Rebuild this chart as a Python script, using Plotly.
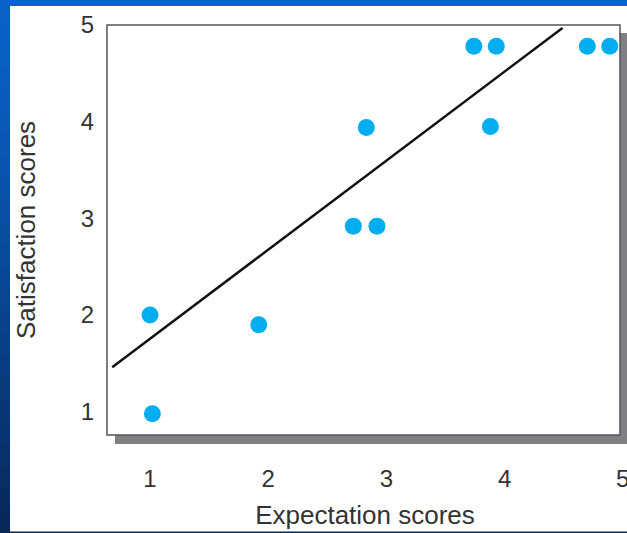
import plotly.graph_objects as go

# Data
expectation = [1.0, 1.02, 1.92, 2.72, 2.92, 2.83, 3.74, 3.93, 3.88, 4.70, 4.89]
satisfaction = [2.0, 0.98, 1.90, 2.92, 2.92, 3.94, 4.78, 4.78, 3.95, 4.78, 4.78]
fit_x = [0.68, 4.49]
fit_y = [1.46, 4.97]
tick_vals = [1, 2, 3, 4, 5]
tick_text = ["1", "2", "3", "4", "5"]

W, H = 627, 533
L, R, T, B = 107, 4, 25, 98
pw, ph = W - L - R, H - T - B


def px_to_paper_x(px):
    return (px - L) / pw


def px_to_paper_y(py):
    return (H - B - py) / ph


def mix(c1, c2, t):
    return "rgb(%d,%d,%d)" % tuple(round(a + (b - a) * t) for a, b in zip(c1, c2))


fig = go.Figure()
fig.add_trace(go.Scatter(
    x=fit_x, y=fit_y, mode="lines",
    line=dict(color="#111111", width=2.5), hoverinfo="skip", showlegend=False))
fig.add_trace(go.Scatter(
    x=expectation, y=satisfaction, mode="markers",
    marker=dict(color="#00AEEF", size=17, line=dict(width=0)), showlegend=False))

shapes = []
# blue slide background gradient
n = 24
top_c, bot_c = (10, 98, 200), (8, 40, 88)
for i in range(n):
    y0 = i * H / n
    y1 = (i + 1) * H / n + 1
    shapes.append(dict(type="rect", xref="paper", yref="paper", layer="below",
                       x0=px_to_paper_x(-5), x1=px_to_paper_x(640),
                       y0=px_to_paper_y(y1), y1=px_to_paper_y(y0),
                       fillcolor=mix(top_c, bot_c, (i / (n - 1)) ** 1.2),
                       line=dict(width=0)))
shapes += [
    # white slide area
    dict(type="rect", xref="paper", yref="paper", layer="below",
         x0=px_to_paper_x(10), x1=px_to_paper_x(640),
         y0=px_to_paper_y(531.5), y1=px_to_paper_y(6),
         fillcolor="white", line=dict(width=0)),
    # shadow
    dict(type="rect", xref="paper", yref="paper", layer="below",
         x0=px_to_paper_x(115), x1=px_to_paper_x(629),
         y0=px_to_paper_y(444), y1=px_to_paper_y(33),
         fillcolor="#808084", line=dict(width=0)),
    # plot box
    dict(type="rect", xref="paper", yref="paper", layer="below",
         x0=0, x1=px_to_paper_x(620), y0=0, y1=1,
         fillcolor="white", line=dict(color="#555555", width=1.5)),
]

fig.update_layout(
    width=W, height=H,
    margin=dict(l=L, r=R, t=T, b=B),
    paper_bgcolor="#0A60C4",
    plot_bgcolor="rgba(0,0,0,0)",
    shapes=shapes,
    font=dict(family="Liberation Sans, Arial, sans-serif", color="#333333"),
    xaxis=dict(range=[0.636, 5.002], tickvals=tick_vals, ticktext=tick_text,
               showgrid=False, zeroline=False, showline=False, automargin=False,
               ticks="outside", ticklen=22, tickcolor="rgba(0,0,0,0)",
               ticklabeloverflow="allow",
               tickfont=dict(size=24, color="#333333"),
               title=dict(text="Expectation scores", font=dict(size=26, color="#333333"), standoff=15)),
    yaxis=dict(range=[0.76, 5.0], tickvals=tick_vals, ticktext=tick_text,
               showgrid=False, zeroline=False, showline=False, automargin=False,
               ticks="outside", ticklen=7, tickcolor="rgba(0,0,0,0)",
               ticklabeloverflow="allow",
               tickfont=dict(size=24, color="#333333"),
               title=dict(text="Satisfaction scores", font=dict(size=26, color="#333333"), standoff=37)),
)

fig.write_html("out.html", config={"displayModeBar": False},
               post_script="document.body.style.margin='0';document.body.style.padding='0';")
